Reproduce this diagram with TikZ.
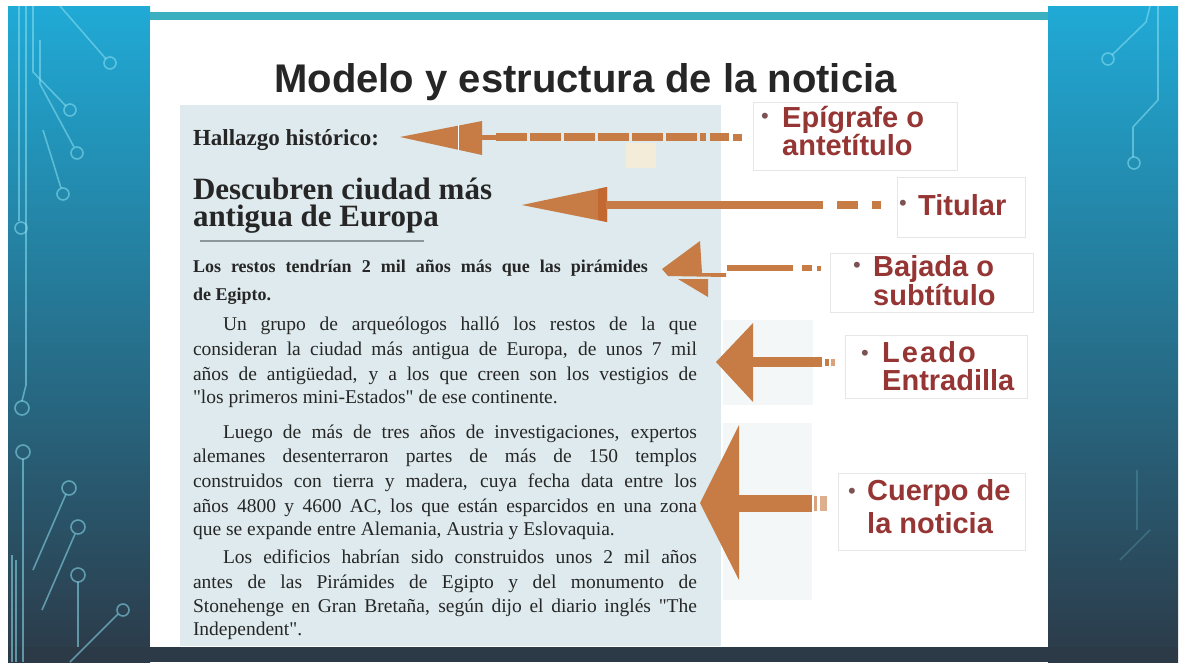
\documentclass[tikz,border=0pt]{standalone}
\usepackage{fontspec}
\setmainfont{Liberation Serif}
\newfontfamily\lsans{Liberation Sans}
\newfontfamily\lsanssp[LetterSpace=7]{Liberation Sans}
\definecolor{arrowor}{RGB}{199,123,69}
\definecolor{arrowdk}{RGB}{196,104,50}
\definecolor{labred}{RGB}{150,54,52}
\definecolor{bulc}{RGB}{125,82,82}
\definecolor{clipbg}{RGB}{222,234,237}
\definecolor{newsink}{RGB}{38,38,38}
\definecolor{titink}{RGB}{38,38,38}
\definecolor{bgtop}{RGB}{32,170,214}
\definecolor{bgmid}{RGB}{30,108,166}
\definecolor{bgbot}{RGB}{44,58,72}
\definecolor{tealstrip}{RGB}{60,176,192}
\definecolor{circ}{RGB}{140,225,242}
\definecolor{boxline}{RGB}{230,230,230}
\definecolor{faintbg}{RGB}{243,247,248}
\definecolor{beige}{RGB}{243,236,217}
\definecolor{sepline}{RGB}{140,150,155}
\begin{document}
\begin{tikzpicture}[x=1pt,y=-1pt,
  np/.style={inner sep=0pt, outer sep=0pt, anchor=base west, text=newsink},
  body/.style={np, font=\fontsize{19.5}{22}\selectfont},
  lbox/.style={draw=boxline, line width=1pt, fill=white, anchor=north west, inner sep=0pt},
  labt/.style={inner sep=0pt, anchor=base west, align=left, text=labred, font=\lsans\bfseries\fontsize{29}{28}\selectfont},
  bul/.style={inner sep=0pt, anchor=center, text=bulc, font=\lsans\fontsize{22}{22}\selectfont},
  circuit/.style={draw=circ, line width=1.6pt, opacity=0.55},
  headfill/.style={fill=arrowor},
  shaftline/.style={draw=arrowor, line cap=butt},
]
\useasboundingbox (0,0) rectangle (1182,662);
\fill[white] (0,0) rectangle (1182,662);

% side backgrounds
\shade[top color=bgtop, middle color=bgmid, bottom color=bgbot] (8,6) rectangle (150,662);
\shade[top color=bgtop, middle color=bgmid, bottom color=bgbot] (1048,6) rectangle (1178,662);
\fill[bgbot] (8,647) rectangle (1178,662);

% circuit decoration, left
\draw[circuit] (19,6) -- (19,221);
\draw[circuit] (21,228) circle (6);
\draw[circuit] (26,6) -- (26,385) -- (22,401);
\draw[circuit] (22,408) circle (7);
\draw[circuit] (23,452) circle (7);
\draw[circuit] (23,459) -- (23,662);
\draw[circuit] (33,6) -- (33,72) -- (66,106);
\draw[circuit] (70,110) circle (6);
\draw[circuit] (60,6) -- (106,59);
\draw[circuit] (110,63) circle (6);
\draw[circuit] (40,40) -- (40,84) -- (74,147);
\draw[circuit] (77,153) circle (6);
\draw[circuit] (43,130) -- (61,188);
\draw[circuit] (63,194) circle (6);
\draw[circuit] (33,570) -- (66,494);
\draw[circuit] (69,488) circle (7);
\draw[circuit] (42,610) -- (75,534);
\draw[circuit] (78,527) circle (7);
\draw[circuit] (78,575) circle (7);
\draw[circuit] (78,582) -- (78,647);
\draw[circuit] (70,662) -- (118,614);
\draw[circuit] (123,610) circle (6);
\draw[circuit] (12,555) -- (12,662);
\draw[circuit] (16,560) -- (16,662);
% circuit decoration, right
\draw[circuit] (1150,6) -- (1146,22) -- (1112,55);
\draw[circuit] (1108,59) circle (6);
\draw[circuit] (1158,6) -- (1158,100) -- (1133,127) -- (1133,157);
\draw[circuit] (1134,163) circle (6);
\draw[circuit, opacity=0.2] (1137,470) -- (1137,530);
\draw[circuit, opacity=0.2] (1120,560) -- (1150,530);

% slide panel
\fill[white] (150,12) rectangle (1048,647);
\fill[tealstrip] (150,12) rectangle (1048,20);

% title
\node[inner sep=0pt, anchor=base, text=titink, font=\lsans\bfseries\fontsize{40}{40}\selectfont] (title) at (585.5,92) {Modelo y estructura de la noticia};

% newspaper clipping
\fill[clipbg] (180,105) rectangle (721,646);
\fill[beige] (626,143) rectangle (656,168);
\fill[faintbg] (723,320) rectangle (813,405);
\fill[faintbg] (723,423) rectangle (812,600);

\node[np, font=\bfseries\fontsize{23}{24}\selectfont] (epi) at (193,145) {Hallazgo histórico:};
\node[np, align=left, font=\bfseries\fontsize{31}{27}\selectfont] (tit) at (193,226) {Descubren ciudad más\\antigua de Europa};
\draw[sepline, line width=1.5pt] (200,241) -- (424,241);
\node[np, font=\bfseries\fontsize{18}{20}\selectfont] (baj1) at (193,272) {\makebox[455pt][s]{Los restos tendrían 2 mil años más que las pirámides}};
\node[np, font=\bfseries\fontsize{18}{20}\selectfont] (baj2) at (193,300) {de Egipto.};

\node[body] (b1) at (223,330) {\makebox[474pt][s]{Un grupo de arqueólogos halló los restos de la que}};
\node[body] (b2) at (193,355) {\makebox[504pt][s]{consideran la ciudad más antigua de Europa, de unos 7 mil}};
\node[body] (b3) at (193,380) {\makebox[504pt][s]{años de antigüedad, y a los que creen son los vestigios de}};
\node[body] (b4) at (193,403) {\textquotedbl los primeros mini-Estados\textquotedbl{} de ese continente.};
\node[body] (b5) at (223,438) {\makebox[474pt][s]{Luego de más de tres años de investigaciones, expertos}};
\node[body] (b6) at (193,462) {\makebox[504pt][s]{alemanes desenterraron partes de más de 150 templos}};
\node[body] (b7) at (193,487) {\makebox[504pt][s]{construidos con tierra y madera, cuya fecha data entre los}};
\node[body] (b8) at (193,512) {\makebox[504pt][s]{años 4800 y 4600 AC, los que están esparcidos en una zona}};
\node[body] (b9) at (193,535) {que se expande entre Alemania, Austria y Eslovaquia.};
\node[body] (b10) at (223,563) {\makebox[474pt][s]{Los edificios habrían sido construidos unos 2 mil años}};
\node[body] (b11) at (193,588) {\makebox[504pt][s]{antes de las Pirámides de Egipto y del monumento de}};
\node[body] (b12) at (193,612) {\makebox[504pt][s]{Stonehenge en Gran Bretaña, según dijo el diario inglés \textquotedbl The}};
\node[body] (b13) at (193,635) {Independent\textquotedbl.};

% label boxes
\node[lbox, minimum width=204pt, minimum height=68pt] (bepi) at (753,102) {};
\node[bul] at (765,118) {•};
\node[labt] (lepi) at (782,155) {Epígrafe o\\antetítulo};

\node[lbox, minimum width=128pt, minimum height=60pt] (btit) at (897,177) {};
\node[bul] at (903,205) {•};
\node[labt] (ltit) at (918,215) {Titular};

\node[lbox, minimum width=203pt, minimum height=59pt] (bbaj) at (830,253) {};
\node[bul] at (857,267) {•};
\node[labt, font=\lsans\bfseries\fontsize{29}{25}\selectfont] (lbaj) at (873,305) {Bajada o\\subtítulo};

\node[lbox, minimum width=182pt, minimum height=63pt] (blea) at (845,335) {};
\node[bul] at (865,355) {•};
\node[labt] (llea) at (882,390) {{\lsanssp Leado}\\Entradilla};

\node[lbox, minimum width=187pt, minimum height=77pt] (bcue) at (838,473) {};
\node[bul] at (852,493) {•};
\node[labt, font=\lsans\bfseries\fontsize{29}{33}\selectfont] (lcue) at (867,533) {Cuerpo de\\la noticia};

% arrow: epigrafe
\fill[headfill] (400,137) -- (482,121) -- (482,155) -- cycle;
\draw[white, line width=1pt] (458,125) -- (458,150);
\draw[shaftline, line width=5pt] (481,137) -- (496,137);
\draw[shaftline, line width=8pt, dash pattern=on 31pt off 3pt] (496,137) -- (706,137);
\draw[shaftline, line width=8pt] (710,137) -- (729,137);
\draw[shaftline, line width=7pt] (733,137) -- (742,137);

% arrow: titular
\fill[headfill] (522,205) -- (607,187) -- (607,222) -- cycle;
\fill[arrowdk] (598,189) -- (607,187) -- (607,222) -- (598,220) -- cycle;
\draw[shaftline, line width=8pt] (606,205) -- (823,205);
\draw[shaftline, line width=8pt] (837,205) -- (858,205);
\draw[shaftline, line width=8pt] (872,205) -- (881,205);

% arrow: bajada
\fill[headfill] (662,269) -- (700,241) -- (702,273) -- (726,273) -- (726,277) -- (668,276) -- cycle;
\fill[headfill] (678,279) -- (708,279) -- (708,297) -- cycle;
\draw[shaftline, line width=6.5pt] (727,268) -- (793,268);
\draw[shaftline, line width=6pt] (802,268) -- (812,268);
\draw[shaftline, line width=5pt] (817,268) -- (821,268);

% arrow: leado
\fill[headfill] (716,362) -- (753,323) -- (753,402) -- cycle;
\draw[shaftline, line width=10pt] (752,362) -- (822,362);
\draw[shaftline, line width=7pt] (825,362) -- (829,362);
\draw[shaftline, line width=7pt, opacity=0.7] (831,362) -- (835,362);

% arrow: cuerpo
\fill[headfill] (700,503) -- (739,425) -- (739,580) -- cycle;
\draw[shaftline, line width=17pt] (738,503) -- (812,503);
\draw[shaftline, line width=15pt, opacity=0.7] (814,503) -- (817,503);
\draw[shaftline, line width=15pt, opacity=0.6] (820,503) -- (827,503);
\end{tikzpicture}
\end{document}
